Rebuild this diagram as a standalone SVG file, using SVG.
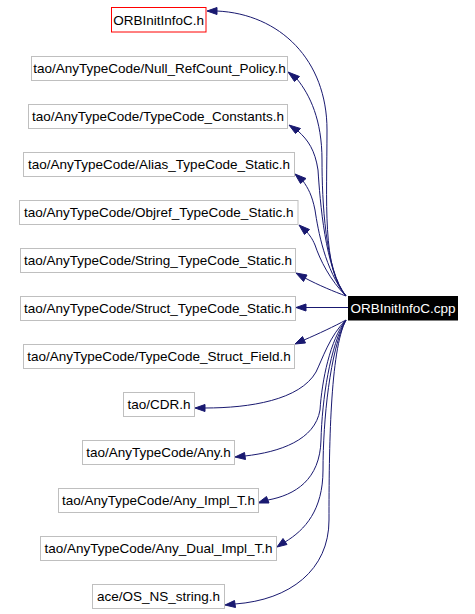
<svg xmlns="http://www.w3.org/2000/svg" width="475" height="614" viewBox="0 0 475 614">
<style>
  .n rect { fill: #ffffff; stroke: #bfbfbf; stroke-width: 1; }
  .n text { font-family: "Liberation Sans", Arial, sans-serif; font-size: 13.5px; fill: #000000; text-anchor: middle; }
  #root rect { fill: #ffffff; stroke: #ff0000; }
  #cpp rect { fill: #000000; stroke: #000000; }
  #cpp text { fill: #ffffff; }
  .e path { fill: none; stroke: #191970; stroke-width: 1; }
  .e polygon { fill: #191970; stroke: #191970; }
</style>
<rect width="475" height="614" fill="#ffffff"/>
<g id="edges" class="e">
  <path d="M346,296 C322,270 327,200 327,130 C327,60 280,14 217,11"/>
  <polygon points="207,11 217,7.5 217,14.5"/>
  <path d="M346,296 C325,270 322,200 322,160 C322,120 310,95 297,79"/>
  <polygon points="288,72 299.5,76.5 294.5,81.5"/>
  <path d="M346,296 C325,270 320,200 318,170 C315,150 308,140 298,131"/>
  <polygon points="289,125 300.5,128.5 295.5,133.5"/>
  <path d="M346,296 C325,270 318,230 315,210 C312,195 308,188 303,181"/>
  <polygon points="295,174 306,178.5 300.5,183.5"/>
  <path d="M346,296 C330,280 320,260 315,245 C312,238 310,236 307,232"/>
  <polygon points="299,225 309.5,229.5 304.5,234.5"/>
  <path d="M346,296 C335,292 318,285 305,278"/>
  <polygon points="296,273 307,275 303.5,281.5"/>
  <path d="M348,307.5 L306,307.5"/>
  <polygon points="296,307.5 306,304 306,311"/>
  <path d="M346,320 C335,326 318,334 304,340"/>
  <polygon points="295,344 302.5,336.5 305.5,343"/>
  <path d="M346,320 C330,335 322,360 316,372 C300,400 250,408 205,408"/>
  <polygon points="195,408 205,404.5 205,411.5"/>
  <path d="M346,320 C330,340 322,380 320,410 C315,440 280,452 245,456"/>
  <polygon points="235,457 244.5,452.5 245.5,459.5"/>
  <path d="M346,320 C330,345 322,400 321,440 C320,480 295,495 268,500"/>
  <polygon points="258,503 266.5,496.5 269,503"/>
  <path d="M346,320 C330,350 323,420 323,470 C323,510 305,530 285,542"/>
  <polygon points="277,547 283,538.5 287,544.5"/>
  <path d="M346,320 C330,350 329,450 329,520 C329,570 290,600 235,604"/>
  <polygon points="225,605 234.5,600.5 235.5,607.5"/>
</g>
<g id="root" class="n"><rect x="111.5" y="7.5" width="94.5" height="24.5"/><text x="158.7" y="24.5">ORBInitInfoC.h</text></g>
<g id="n1" class="n"><rect x="31.5" y="56.5" width="256" height="24"/><text x="159.5" y="73">tao/AnyTypeCode/Null_RefCount_Policy.h</text></g>
<g id="n2" class="n"><rect x="28.5" y="104.5" width="259" height="24"/><text x="158" y="121">tao/AnyTypeCode/TypeCode_Constants.h</text></g>
<g id="n3" class="n"><rect x="23.5" y="152.5" width="271" height="24"/><text x="159" y="169">tao/AnyTypeCode/Alias_TypeCode_Static.h</text></g>
<g id="n4" class="n"><rect x="19.5" y="200.5" width="278.5" height="24"/><text x="158.7" y="217">tao/AnyTypeCode/Objref_TypeCode_Static.h</text></g>
<g id="n5" class="n"><rect x="20.5" y="248.5" width="275" height="24"/><text x="158" y="265">tao/AnyTypeCode/String_TypeCode_Static.h</text></g>
<g id="n6" class="n"><rect x="20.5" y="296.5" width="275" height="24"/><text x="158" y="313">tao/AnyTypeCode/Struct_TypeCode_Static.h</text></g>
<g id="n7" class="n"><rect x="23.5" y="344.5" width="271" height="24"/><text x="159" y="361">tao/AnyTypeCode/TypeCode_Struct_Field.h</text></g>
<g id="n8" class="n"><rect x="123.5" y="392.5" width="71" height="24"/><text x="159" y="409">tao/CDR.h</text></g>
<g id="n9" class="n"><rect x="82.5" y="440.5" width="152" height="24"/><text x="158.5" y="457">tao/AnyTypeCode/Any.h</text></g>
<g id="n10" class="n"><rect x="58.5" y="488.5" width="200" height="24"/><text x="158.5" y="505">tao/AnyTypeCode/Any_Impl_T.h</text></g>
<g id="n11" class="n"><rect x="40.5" y="536.5" width="236" height="24"/><text x="158.5" y="553">tao/AnyTypeCode/Any_Dual_Impl_T.h</text></g>
<g id="n12" class="n"><rect x="92.5" y="584.5" width="132" height="24"/><text x="158.5" y="601">ace/OS_NS_string.h</text></g>
<g id="cpp" class="n"><rect x="348.5" y="296.5" width="109" height="23.5"/><text x="403" y="313">ORBInitInfoC.cpp</text></g>
</svg>
